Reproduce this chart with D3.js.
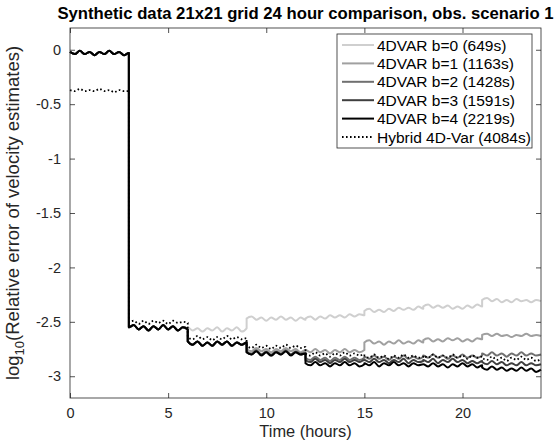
<!DOCTYPE html>
<html>
<head>
<meta charset="utf-8">
<script src="https://cdn.jsdelivr.net/npm/d3@7/dist/d3.min.js"></script>
<style>
  body { margin: 0; background: #fff; }
  svg { display: block; font-family: "Liberation Sans", Arial, sans-serif; }
</style>
</head>
<body>
<script>
'use strict';

// start hour of every 3 hour assimilation window, and the quarter hour samples inside one
const windowStarts = [0, 3, 6, 9, 12, 15, 18, 21];
const sampleOffsets = [0, 0.25, 0.5, 0.75, 1, 1.25, 1.5, 1.75, 2, 2.25, 2.5, 2.75, 3];

const xTicks = [0, 5, 10, 15, 20];
const yTicks = [0, -0.5, -1, -1.5, -2, -2.5, -3];
const yTickLabels = ["0", "-0.5", "-1", "-1.5", "-2", "-2.5", "-3"];

const seriesNames = ["4DVAR b=0 (649s)", "4DVAR b=1 (1163s)", "4DVAR b=2 (1428s)",
  "4DVAR b=3 (1591s)", "4DVAR b=4 (2219s)", "Hybrid 4D-Var (4084s)"];

// first windows are the same for every b (lines sit on top of each other)
const sharedWin0 = [-0.02, -0.04, -0.01, -0.04, -0.02, -0.05, -0.02, -0.04, -0.01, -0.04, -0.02, -0.05, -0.03];
const sharedWin1 = [-2.55, -2.53, -2.57, -2.54, -2.58, -2.54, -2.57, -2.53, -2.57, -2.54, -2.58, -2.55, -2.57];
const sharedWin2 = [-2.68, -2.71, -2.68, -2.72, -2.69, -2.72, -2.68, -2.71, -2.68, -2.72, -2.69, -2.71, -2.69];

const b0Values = [sharedWin0, sharedWin1,
  [-2.55, -2.58, -2.56, -2.59, -2.56, -2.58, -2.55, -2.59, -2.56, -2.58, -2.55, -2.59, -2.56],
  [-2.47, -2.45, -2.48, -2.46, -2.49, -2.46, -2.48, -2.45, -2.48, -2.46, -2.49, -2.46, -2.48],
  [-2.47, -2.45, -2.48, -2.45, -2.47, -2.44, -2.46, -2.44, -2.46, -2.43, -2.45, -2.43, -2.44],
  [-2.40, -2.38, -2.41, -2.39, -2.41, -2.38, -2.40, -2.37, -2.39, -2.37, -2.39, -2.36, -2.38],
  [-2.36, -2.34, -2.37, -2.35, -2.37, -2.35, -2.38, -2.36, -2.38, -2.35, -2.37, -2.34, -2.36],
  [-2.30, -2.28, -2.31, -2.29, -2.32, -2.30, -2.32, -2.29, -2.31, -2.30, -2.32, -2.30, -2.31]];

const b1Values = [sharedWin0, sharedWin1, sharedWin2,
  [-2.75, -2.77, -2.74, -2.77, -2.75, -2.78, -2.75, -2.77, -2.74, -2.77, -2.75, -2.78, -2.76],
  [-2.76, -2.78, -2.75, -2.78, -2.76, -2.79, -2.76, -2.78, -2.75, -2.78, -2.76, -2.78, -2.76],
  [-2.69, -2.67, -2.70, -2.68, -2.71, -2.68, -2.70, -2.67, -2.70, -2.68, -2.70, -2.67, -2.69],
  [-2.67, -2.65, -2.68, -2.66, -2.68, -2.65, -2.67, -2.65, -2.68, -2.66, -2.68, -2.65, -2.66],
  [-2.62, -2.61, -2.63, -2.61, -2.63, -2.62, -2.64, -2.62, -2.63, -2.61, -2.63, -2.62, -2.63]];

const b2Values = [sharedWin0, sharedWin1, sharedWin2,
  [-2.77, -2.79, -2.76, -2.80, -2.77, -2.80, -2.77, -2.79, -2.76, -2.80, -2.77, -2.79, -2.78],
  [-2.83, -2.85, -2.82, -2.85, -2.83, -2.86, -2.83, -2.85, -2.82, -2.85, -2.83, -2.85, -2.83],
  [-2.82, -2.84, -2.81, -2.84, -2.82, -2.85, -2.82, -2.84, -2.81, -2.84, -2.82, -2.84, -2.82],
  [-2.81, -2.83, -2.80, -2.83, -2.81, -2.84, -2.81, -2.83, -2.80, -2.83, -2.81, -2.83, -2.81],
  [-2.79, -2.81, -2.78, -2.81, -2.79, -2.82, -2.79, -2.81, -2.78, -2.81, -2.79, -2.81, -2.80]];

const b3Values = [sharedWin0, sharedWin1, sharedWin2,
  [-2.78, -2.80, -2.77, -2.80, -2.78, -2.81, -2.78, -2.80, -2.77, -2.80, -2.78, -2.80, -2.79],
  [-2.85, -2.87, -2.84, -2.87, -2.85, -2.88, -2.85, -2.87, -2.84, -2.87, -2.85, -2.87, -2.85],
  [-2.85, -2.87, -2.84, -2.87, -2.85, -2.88, -2.85, -2.87, -2.84, -2.88, -2.85, -2.87, -2.86],
  [-2.85, -2.87, -2.84, -2.88, -2.85, -2.87, -2.84, -2.87, -2.85, -2.88, -2.86, -2.88, -2.86],
  [-2.87, -2.89, -2.86, -2.89, -2.87, -2.90, -2.88, -2.90, -2.87, -2.90, -2.88, -2.90, -2.89]];

const b4Values = [sharedWin0, sharedWin1, sharedWin2,
  [-2.78, -2.80, -2.77, -2.81, -2.78, -2.81, -2.78, -2.80, -2.77, -2.81, -2.78, -2.80, -2.79],
  [-2.88, -2.90, -2.87, -2.90, -2.88, -2.91, -2.88, -2.90, -2.87, -2.90, -2.88, -2.91, -2.89],
  [-2.88, -2.90, -2.87, -2.91, -2.88, -2.90, -2.87, -2.90, -2.88, -2.91, -2.88, -2.90, -2.89],
  [-2.89, -2.91, -2.88, -2.91, -2.89, -2.92, -2.89, -2.91, -2.88, -2.91, -2.89, -2.92, -2.90],
  [-2.92, -2.94, -2.91, -2.94, -2.92, -2.95, -2.93, -2.95, -2.92, -2.95, -2.93, -2.96, -2.94]];

const hybridValues = [
  [-0.37, -0.38, -0.36, -0.38, -0.37, -0.38, -0.36, -0.38, -0.37, -0.39, -0.37, -0.38, -0.38],
  [-2.50, -2.49, -2.52, -2.49, -2.52, -2.49, -2.51, -2.49, -2.52, -2.49, -2.51, -2.50, -2.51],
  [-2.64, -2.66, -2.63, -2.66, -2.64, -2.67, -2.64, -2.66, -2.63, -2.66, -2.64, -2.66, -2.65],
  [-2.72, -2.74, -2.71, -2.74, -2.72, -2.75, -2.72, -2.74, -2.71, -2.74, -2.72, -2.74, -2.73],
  [-2.79, -2.81, -2.78, -2.81, -2.79, -2.82, -2.79, -2.81, -2.78, -2.81, -2.79, -2.81, -2.80],
  [-2.81, -2.83, -2.80, -2.83, -2.81, -2.84, -2.81, -2.83, -2.80, -2.83, -2.81, -2.83, -2.82],
  [-2.81, -2.83, -2.80, -2.83, -2.81, -2.83, -2.80, -2.83, -2.81, -2.84, -2.81, -2.83, -2.82],
  [-2.83, -2.85, -2.82, -2.85, -2.83, -2.86, -2.83, -2.85, -2.82, -2.85, -2.83, -2.86, -2.84]];

(function () {

  let svgContainer = "";
  const axisColor = "#262626";

  // plot area inside the svg
  const plot = { left: 70, right: 541, top: 28, bottom: 398 };

  window.onload = function () {
    svgContainer = d3.select('body')
      .append('svg')
      .attr('width', 556)
      .attr('height', 443);

    let allSeries = [b0Values, b1Values, b2Values, b3Values, b4Values, hybridValues];
    let styles = [
      { color: "#cfcfcf", width: 2, dash: null },
      { color: "#a0a0a0", width: 2, dash: null },
      { color: "#707070", width: 2, dash: null },
      { color: "#3f3f3f", width: 2, dash: null },
      { color: "#000000", width: 2, dash: null },
      { color: "#000000", width: 1.8, dash: "1.6,2.4" }
    ];

    let data = allSeries.map((windows, i) => ({
      name: seriesNames[i],
      style: styles[i],
      points: toPoints(windows)
    }));

    let map = drawAxes();
    plotData(data, map);
    drawFrame();
    makeLegend(data);
    makeLabels();
  };

  // flatten window arrays into {t, v} rows (end of one window and start of next share t)
  function toPoints(windows) {
    let rows = [];
    windows.forEach((vals, w) => {
      vals.forEach((v, j) => {
        rows.push({ t: windowStarts[w] + sampleOffsets[j], v: v });
      });
    });
    return rows;
  }

  // scales, ticks and tick labels
  function drawAxes() {
    let xScale = d3.scaleLinear()
      .domain([0, 24])
      .range([plot.left, plot.right]);

    let yScale = d3.scaleLinear()
      .domain([-3.2, 0.2])
      .range([plot.bottom, plot.top]);

    let tickLen = 5;

    // bottom axis, ticks pointing in
    let xAxis = d3.axisBottom(xScale).tickValues(xTicks).tickSizeInner(-tickLen).tickSizeOuter(0).tickPadding(10);
    let gx = svgContainer.append('g')
      .attr('transform', 'translate(0,' + plot.bottom + ')')
      .call(xAxis);
    styleAxis(gx);

    // top mirror ticks
    let gxTop = svgContainer.append('g')
      .attr('transform', 'translate(0,' + plot.top + ')')
      .call(d3.axisTop(xScale).tickValues(xTicks).tickSizeInner(-tickLen).tickSizeOuter(0).tickFormat(""));
    styleAxis(gxTop);

    let yAxis = d3.axisLeft(yScale).tickValues(yTicks).tickSizeInner(-tickLen).tickSizeOuter(0).tickPadding(9)
      .tickFormat((d, i) => yTickLabels[i]);
    let gy = svgContainer.append('g')
      .attr('transform', 'translate(' + plot.left + ',0)')
      .call(yAxis);
    styleAxis(gy);

    // right mirror ticks
    let gyRight = svgContainer.append('g')
      .attr('transform', 'translate(' + plot.right + ',0)')
      .call(d3.axisRight(yScale).tickValues(yTicks).tickSizeInner(-tickLen).tickSizeOuter(0).tickFormat(""));
    styleAxis(gyRight);

    return { xScale: xScale, yScale: yScale };
  }

  function styleAxis(g) {
    g.select('.domain').remove();
    g.selectAll('.tick line').attr('stroke', axisColor).attr('stroke-width', 0.8);
    g.selectAll('.tick text')
      .attr('fill', axisColor)
      .style('font-size', '14.5px')
      .style('font-family', '"Liberation Sans", Arial, sans-serif');
  }

  // axes box
  function drawFrame() {
    svgContainer.append('rect')
      .attr('x', plot.left)
      .attr('y', plot.top)
      .attr('width', plot.right - plot.left)
      .attr('height', plot.bottom - plot.top)
      .attr('fill', 'none')
      .attr('stroke', axisColor)
      .attr('stroke-width', 0.8);
  }

  // one line per series, drawn in legend order so black ends up on top
  function plotData(data, map) {
    let valueLine = d3.line()
      .x((d) => map.xScale(d.t))
      .y((d) => map.yScale(d.v))
      .curve(d3.curveMonotoneX);

    svgContainer.append('g')
      .selectAll('path')
      .data(data)
      .enter()
      .append('path')
      .attr('d', (d) => valueLine(d.points))
      .attr('fill', 'none')
      .attr('stroke', (d) => d.style.color)
      .attr('stroke-width', (d) => d.style.width)
      .attr('stroke-dasharray', (d) => d.style.dash)
      .attr('stroke-linejoin', 'round');
  }

  function makeLegend(data) {
    let box = { x: 337, y: 34, w: 195, h: 114 };
    let rowH = 18.4;

    let legend = svgContainer.append('g');
    legend.append('rect')
      .attr('x', box.x)
      .attr('y', box.y)
      .attr('width', box.w)
      .attr('height', box.h)
      .attr('fill', '#fff')
      .attr('stroke', axisColor)
      .attr('stroke-width', 0.8);

    let rows = legend.selectAll('.row')
      .data(data)
      .enter()
      .append('g')
      .attr('transform', (d, i) => 'translate(' + box.x + ',' + (box.y + 11 + i * rowH) + ')');

    rows.append('line')
      .attr('x1', 5)
      .attr('x2', 37)
      .attr('stroke', (d) => d.style.color)
      .attr('stroke-width', (d) => d.style.width)
      .attr('stroke-dasharray', (d) => d.style.dash);

    rows.append('text')
      .attr('x', 40)
      .attr('dy', '0.36em')
      .attr('fill', '#000')
      .style('font-size', '15.5px')
      .text((d) => d.name);
  }

  // title and axes labels
  function makeLabels() {
    svgContainer.append('text')
      .attr('x', (plot.left + plot.right) / 2)
      .attr('y', 19)
      .attr('text-anchor', 'middle')
      .style('font-size', '16.7px')
      .style('font-weight', 'bold')
      .text("Synthetic data 21x21 grid 24 hour comparison, obs. scenario 1");

    svgContainer.append('text')
      .attr('x', (plot.left + plot.right) / 2)
      .attr('y', 437)
      .attr('text-anchor', 'middle')
      .attr('fill', axisColor)
      .style('font-size', '16.4px')
      .text('Time (hours)');

    let yLabel = svgContainer.append('text')
      .attr('transform', 'translate(19,' + ((plot.top + plot.bottom) / 2) + ')rotate(-90)')
      .attr('text-anchor', 'middle')
      .attr('fill', axisColor)
      .style('font-size', '18.5px');
    yLabel.append('tspan').text('log');
    yLabel.append('tspan').attr('dy', 5).style('font-size', '13px').text('10');
    yLabel.append('tspan').attr('dy', -5).text('(Relative error of velocity estimates)');
  }

})();
</script>
</body>
</html>
